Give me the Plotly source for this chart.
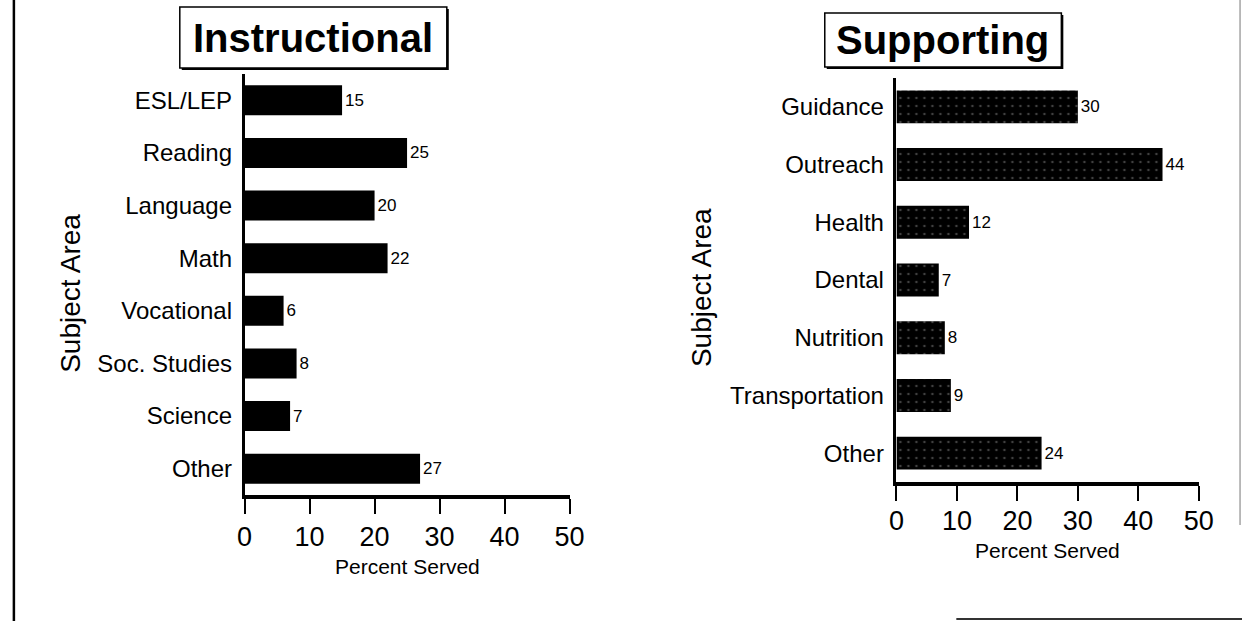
import plotly.graph_objects as go

# Data
instr_categories = ["ESL/LEP", "Reading", "Language", "Math", "Vocational",
                    "Soc. Studies", "Science", "Other"]
instr_values = [15, 25, 20, 22, 6, 8, 7, 27]

supp_categories = ["Guidance", "Outreach", "Health", "Dental", "Nutrition",
                   "Transportation", "Other"]
supp_values = [30, 44, 12, 7, 8, 9, 24]

x_ticks = [0, 10, 20, 30, 40, 50]

W, H = 1257, 621
FONT = "Arial, Liberation Sans, Helvetica, sans-serif"


def px(x):
    return x / W


def py(y):
    return 1 - y / H


fig = go.Figure()

fig.add_trace(go.Bar(
    x=instr_values, y=instr_categories, orientation="h",
    marker=dict(color="black", line=dict(width=0)),
    width=0.57,
    text=[str(v) for v in instr_values], textposition="outside",
    textfont=dict(size=17, color="black", family=FONT),
    cliponaxis=False, xaxis="x", yaxis="y", showlegend=False,
))

fig.add_trace(go.Bar(
    x=supp_values, y=supp_categories, orientation="h",
    marker=dict(color="black", line=dict(width=0),
                pattern=dict(shape=".", fgcolor="#808080", size=8,
                             solidity=0.08, fillmode="overlay")),
    width=0.57,
    text=[str(v) for v in supp_values], textposition="outside",
    textfont=dict(size=17, color="black", family=FONT),
    cliponaxis=False, xaxis="x2", yaxis="y2", showlegend=False,
))

xaxis_common = dict(
    range=[0, 50], tickvals=x_ticks, ticktext=[str(t) for t in x_ticks],
    showline=True, linewidth=3.5, linecolor="black", ticks="outside",
    ticklen=15, tickwidth=1.5, tickcolor="black", showgrid=False,
    zeroline=False, tickfont=dict(size=27, color="black", family=FONT),
    fixedrange=True,
)
yaxis_common = dict(
    showline=True, linewidth=2.5, linecolor="black", ticks="",
    showgrid=False, zeroline=False,
    tickfont=dict(size=24, color="black", family=FONT),
    ticklabelstandoff=5, fixedrange=True,
)

fig.update_layout(
    autosize=True,
    margin=dict(l=0, r=0, t=0, b=0),
    paper_bgcolor="white", plot_bgcolor="white",
    bargap=0.43,
    xaxis=dict(domain=[px(241), px(572)], anchor="y",
               ticklabelstandoff=0, **xaxis_common),
    yaxis=dict(domain=[py(495), py(74)], anchor="x",
               categoryorder="array", categoryarray=instr_categories,
               range=[7.5, -0.5], **yaxis_common),
    xaxis2=dict(domain=[px(905), px(1213)], anchor="y2",
                ticklabelstandoff=-3, **xaxis_common),
    yaxis2=dict(domain=[py(482), py(78)], anchor="x2",
                categoryorder="array", categoryarray=supp_categories,
                range=[6.5, -0.5], **yaxis_common),
)

shapes = []
# title boxes with slight shadow
for (x0, y0, x1, y1) in [(175, 7, 447, 68), (832, 13, 1073, 67)]:
    shapes.append(dict(type="rect", xref="paper", yref="paper",
                       x0=px(x0 + 2), x1=px(x1 + 2), y0=py(y1 + 2), y1=py(y0 + 2),
                       fillcolor="black", line=dict(width=0), layer="above"))
    shapes.append(dict(type="rect", xref="paper", yref="paper",
                       x0=px(x0), x1=px(x1), y0=py(y1), y1=py(y0),
                       fillcolor="white", line=dict(color="black", width=1.5),
                       layer="above"))
# page borders
shapes.append(dict(type="line", xref="paper", yref="paper",
                   x0=px(6), x1=px(6), y0=0, y1=1,
                   line=dict(color="black", width=2.5)))
shapes.append(dict(type="line", xref="paper", yref="paper",
                   x0=px(1255), x1=px(1255), y0=py(525), y1=1,
                   line=dict(color="#777777", width=1)))
shapes.append(dict(type="line", xref="paper", yref="paper",
                   x0=px(966), x1=1, y0=py(619), y1=py(619),
                   line=dict(color="#333333", width=2)))
fig.update_layout(shapes=shapes)

annotations = [
    dict(text="<b>Instructional</b>", x=px(311), y=py(38), xref="paper",
         yref="paper", showarrow=False, xanchor="center", yanchor="middle",
         font=dict(size=40, color="black", family=FONT)),
    dict(text="<b>Supporting</b>", x=px(952), y=py(40), xref="paper",
         yref="paper", showarrow=False, xanchor="center", yanchor="middle",
         font=dict(size=40, color="black", family=FONT)),
    dict(text="Percent Served", x=px(407), y=py(566), xref="paper",
         yref="paper", showarrow=False, xanchor="center", yanchor="middle",
         font=dict(size=21, color="black", family=FONT)),
    dict(text="Percent Served", x=px(1059), y=py(550), xref="paper",
         yref="paper", showarrow=False, xanchor="center", yanchor="middle",
         font=dict(size=21, color="black", family=FONT)),
    dict(text="Subject Area", x=px(63), y=py(293), xref="paper",
         yref="paper", showarrow=False, xanchor="center", yanchor="middle",
         textangle=-90, font=dict(size=28, color="black", family=FONT)),
    dict(text="Subject Area", x=px(706), y=py(288), xref="paper",
         yref="paper", showarrow=False, xanchor="center", yanchor="middle",
         textangle=-90, font=dict(size=28, color="black", family=FONT)),
]
fig.update_layout(annotations=annotations)

fig.write_html(
    "out.html",
    default_width="100vw",
    default_height="100vh",
    config={"responsive": True, "displayModeBar": False},
    post_script=("document.documentElement.style.margin='0';"
                 "document.body.style.margin='0';"
                 "document.body.style.overflow='hidden';"
                 "var gd=document.getElementById('{plot_id}');"
                 "gd.style.width='100vw';gd.style.height='100vh';"
                 "Plotly.Plots.resize(gd);"),
)
